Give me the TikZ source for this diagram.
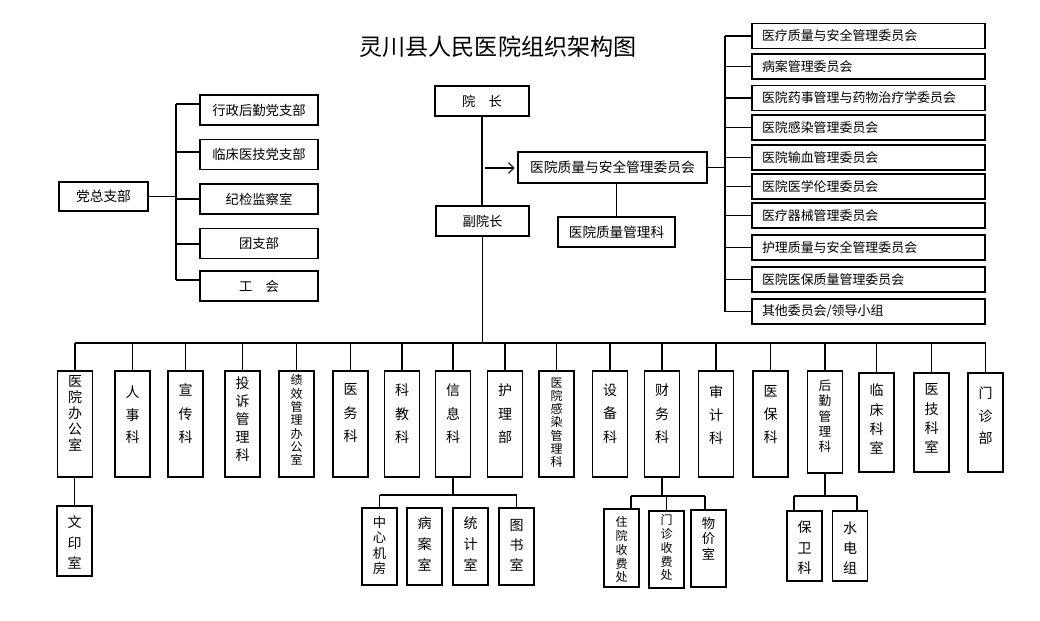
\documentclass[tikz,border=0pt]{standalone}
\usepackage{fontspec}
\setmainfont{Noto Sans CJK SC}
\usetikzlibrary{arrows.meta}
\tikzset{
  bx/.style={draw, line width=1.1pt, inner sep=0pt, align=center},
  vbx/.style={bx, minimum width=26.25pt},
  vtx/.style={anchor=north, inner sep=0pt, align=center},
  ln/.style={line width=0.8pt},
  pbox/.style={bx, minimum width=88.5pt, minimum height=22.5pt, font=\fontsize{10}{12}\selectfont},
  cbox/.style={draw, line width=1.1pt, inner ysep=0pt, inner xsep=7.5pt, text width=159.75pt, align=left,
    minimum height=18.75pt, font=\fontsize{9.7}{11}\selectfont},
}
\newcommand\VB[8]{%
  \node[vbx, minimum height={#4*0.75pt}] (#1) at ({#2},{#3+#4/2}) {};
  \node[vtx, font=\fontsize{#7pt}{#6pt}\selectfont] (#1t) at ({#2},{#5-0.6*#7}) {#8};
}
\begin{document}
\begin{tikzpicture}[x=0.75pt,y=-0.75pt]
\useasboundingbox (0,0) rectangle (1040,621);

% title
\node[inner sep=0pt, font=\fontsize{17.3}{20}\selectfont] (title) at (498,47) {灵川县人民医院组织架构图};

% left party section
\node[bx, minimum width=66.75pt, minimum height=21.75pt, font=\fontsize{10.3}{12}\selectfont] (dz) at (103.5,196.5) {党总支部};
\node[pbox] (p1) at (259,110) {行政后勤党支部};
\node[pbox] (p2) at (259,154.5) {临床医技党支部};
\node[pbox] (p3) at (259,199) {纪检监察室};
\node[pbox] (p4) at (259,243.5) {团支部};
\node[pbox] (p5) at (259,286) {工\quad 会};
\coordinate (lj) at (176,196.5);
\coordinate (l1) at (176,104);
\coordinate (l2) at (176,152);
\coordinate (l3) at (176,199);
\coordinate (l4) at (176,244);
\coordinate (l5) at (176,280);
\draw[ln] (dz.east) -- (lj);
\draw[ln] (l1) -- (l5);
\draw[ln] (l1) -- (l1 -| p1.west);
\draw[ln] (l2) -- (l2 -| p2.west);
\draw[ln] (l3) -- (l3 -| p3.west);
\draw[ln] (l4) -- (l4 -| p4.west);
\draw[ln] (l5) -- (l5 -| p5.west);

% top centre
\node[bx, minimum width=70.5pt, minimum height=22.5pt, font=\fontsize{10}{12}\selectfont] (yz) at (482,101) {院\quad 长};
\node[bx, minimum width=69.75pt, minimum height=22.5pt, font=\fontsize{10}{12}\selectfont] (fy) at (482.5,221) {副院长};
\node[bx, minimum width=141.75pt, minimum height=23.25pt, font=\fontsize{10.3}{12}\selectfont] (qa) at (612.5,167.5) {医院质量与安全管理委员会};
\node[bx, minimum width=87.75pt, minimum height=22.5pt, font=\fontsize{10.2}{12}\selectfont] (qm) at (616.5,232) {医院质量管理科};
\draw[ln] (yz.south) -- (yz.south |- fy.north);
\coordinate (as) at (485,168);
\draw[ln, -{Straight Barb[length=4pt,width=8pt]}, shorten >=2pt] (as) -- (as -| qa.west);
\draw[ln] (qm.north |- qa.south) -- (qm.north);

% right committees
\node[cbox] (c1) at (868.5,36) {医疗质量与安全管理委员会};
\node[cbox] (c2) at (868.5,66.5) {病案管理委员会};
\node[cbox] (c3) at (868.5,98) {医院药事管理与药物治疗学委员会};
\node[cbox] (c4) at (868.5,127.5) {医院感染管理委员会};
\node[cbox] (c5) at (868.5,157.5) {医院输血管理委员会};
\node[cbox] (c6) at (868.5,186.5) {医院医学伦理委员会};
\node[cbox] (c7) at (868.5,215.5) {医疗器械管理委员会};
\node[cbox] (c8) at (868.5,247.5) {护理质量与安全管理委员会};
\node[cbox] (c9) at (868.5,279.5) {医院医保质量管理委员会};
\node[cbox] (c10) at (868.5,311.5) {其他委员会/领导小组};
\coordinate (rv) at (725,0);
\draw[ln] (qa.east) -- (qa.east -| rv);
\draw[ln] (c1.west -| rv) -- (c10.west -| rv);
\foreach \c in {c1,c2,c3,c4,c5,c6,c7,c8,c9,c10}{
  \draw[ln] (\c.west -| rv) -- (\c.west);
}

% bottom row
\VB{oa}{75}{371}{106}{382}{12}{10.5}{医\\院\\办\\公\\室}
\VB{rs}{132.5}{371}{106}{392}{16.9}{10.5}{人\\事\\科}
\VB{xc}{185.5}{371}{106}{390}{17.6}{10.5}{宣\\传\\科}
\VB{ts}{242.5}{371}{106}{383}{13.5}{10.5}{投\\诉\\管\\理\\科}
\VB{jx}{296.5}{371}{106}{380}{10}{9}{绩\\效\\管\\理\\办\\公\\室}
\VB{yw}{350.5}{371}{106}{390}{17.6}{10.5}{医\\务\\科}
\VB{kj}{402}{371}{106}{390}{17.6}{10.5}{科\\教\\科}
\VB{xx}{453}{371}{106}{390}{17.6}{10.5}{信\\息\\科}
\VB{hl}{505}{371}{106}{390}{17.6}{10.5}{护\\理\\部}
\VB{gr}{556.5}{371}{106}{383}{9.9}{9}{医\\院\\感\\染\\管\\理\\科}
\VB{sb}{610}{371}{106}{390}{17.6}{10.5}{设\\备\\科}
\VB{cw}{662}{371}{106}{390}{17.6}{10.5}{财\\务\\科}
\VB{sj}{716}{371}{106}{392}{17.25}{10.5}{审\\计\\科}
\VB{yb}{770.5}{371}{106}{392}{17.25}{10.5}{医\\保\\科}
\VB{hq}{825}{371}{102}{385}{11.6}{9.5}{后\\勤\\管\\理\\科}
\VB{lc}{876.5}{373}{99}{390}{14.5}{10.5}{临\\床\\科\\室}
\VB{yj}{931.5}{373}{99}{390}{14.5}{10.5}{医\\技\\科\\室}
\VB{mz}{985.5}{373}{99}{393}{16.9}{10.5}{门\\诊\\部}

\coordinate (bus) at (0,343);
\draw[ln] (fy.south) -- (fy.south |- bus);
\draw[ln] (oa.north |- bus) -- (mz.north |- bus);
\foreach \n in {oa,rs,xc,ts,jx,yw,kj,xx,hl,gr,sb,cw,sj,yb,hq,lc,yj,mz}{
  \draw[ln] (\n.north |- bus) -- (\n.north);
}

% sub boxes
\VB{wy}{74.5}{506}{70}{522}{15.4}{10.5}{文\\印\\室}
\VB{zx}{379.5}{508}{77}{522}{11.6}{10}{中\\心\\机\\房}
\VB{ba}{424.5}{508}{77}{523}{15.75}{10.5}{病\\案\\室}
\VB{tj}{470.5}{508}{77}{523}{15.75}{10.5}{统\\计\\室}
\VB{ts2}{516.5}{508}{77}{525}{15}{10.5}{图\\书\\室}
\VB{zy}{621.5}{509}{78}{522}{10.3}{9}{住\\院\\收\\费\\处}
\VB{mzs}{666.5}{511}{77}{520}{10.3}{9}{门\\诊\\收\\费\\处}
\VB{wj}{708.5}{510}{77}{523}{11.6}{10}{物\\价\\室}
\VB{bw}{804.5}{511}{70}{527}{15.4}{10.5}{保\\卫\\科}
\VB{sd}{850}{511}{70}{528}{15}{10.5}{水\\电\\组}

\draw[ln] (wy.north |- oa.south) -- (wy.north);

\coordinate (xj) at (0,495);
\draw[ln] (xx.south) -- (xx.south |- xj);
\draw[ln] (zx.north |- xj) -- (ts2.north |- xj);
\draw[ln] (zx.north |- xj) -- (zx.north);
\draw[ln] (ts2.north |- xj) -- (ts2.north);

\coordinate (cjl) at (631,496);
\coordinate (cjr) at (705,496);
\draw[ln] (cw.south) -- (cw.south |- cjl);
\draw[ln] (cjl) -- (cjr);
\draw[ln] (cjl) -- (cjl |- zy.north);
\draw[ln] (mzs.north |- cjl) -- (mzs.north);
\draw[ln] (cjr) -- (cjr |- wj.north);

\coordinate (hjl) at (794,496);
\coordinate (hjr) at (857,496);
\draw[ln] (hq.south) -- (hq.south |- hjl);
\draw[ln] (hjl) -- (hjr);
\draw[ln] (hjl) -- (hjl |- bw.north);
\draw[ln] (hjr) -- (hjr |- sd.north);
\end{tikzpicture}
\end{document}
